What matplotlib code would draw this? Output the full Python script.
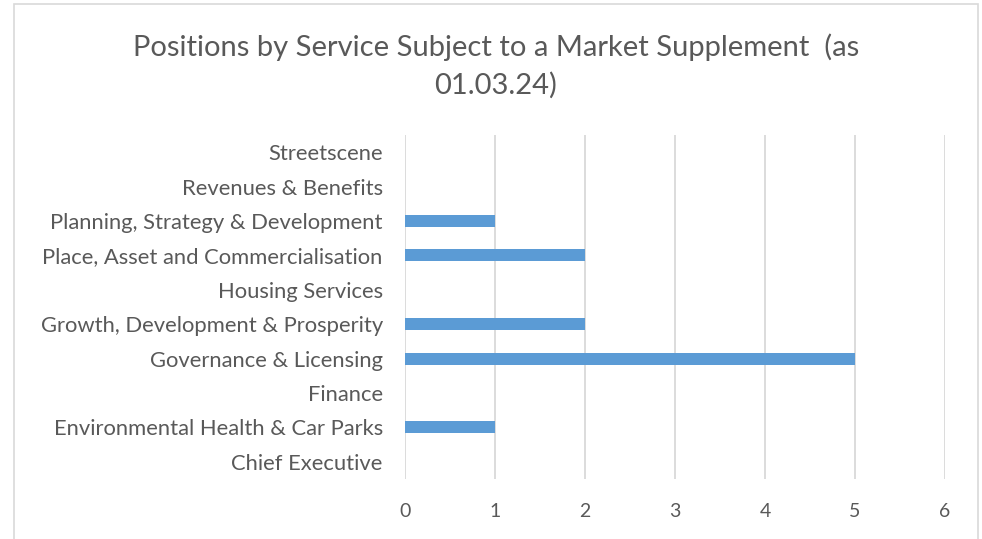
import numpy as np
import matplotlib.pyplot as plt
from matplotlib.patches import Rectangle

services = ["Chief Executive", "Environmental Health & Car Parks", "Finance",
            "Governance & Licensing", "Growth, Development & Prosperity",
            "Housing Services", "Place, Asset and Commercialisation",
            "Planning, Strategy & Development", "Revenues & Benefits", "Streetscene"]
positions = [0, 1, 0, 5, 2, 0, 2, 1, 0, 0]
xticks = [0, 1, 2, 3, 4, 5, 6]

plt.rcParams['font.family'] = ['Lato', 'DejaVu Sans']
txt = "#595959"

fig = plt.figure(figsize=(9.82, 5.39), dpi=100)
ax = fig.add_axes([405 / 982, 1 - 479 / 539, 540 / 982, 344 / 539])

y = np.arange(len(services))
ax.barh(y, positions, height=0.35, color="#5B9BD5", zorder=3)
ax.set_xlim(0, 6)
ax.set_ylim(-0.5, len(services) - 0.5)
ax.set_xticks(xticks)
ax.set_xticklabels([str(t) for t in xticks], fontsize=14, color=txt)
ax.set_yticks(y)
ax.set_yticklabels(services, fontsize=15.8, color=txt)
ax.tick_params(length=0, pad=16, axis="y")
ax.tick_params(length=0, pad=17, axis="x")
ax.grid(axis="x", color="#D9D9D9", linewidth=1.3, zorder=0)
for s in ax.spines.values():
    s.set_visible(False)

fig.text(0.505, 1 - 47 / 539, "Positions by Service Subject to a Market Supplement  (as",
         ha="center", va="center", fontsize=21, color=txt)
fig.text(0.505, 1 - 85 / 539, "01.03.24)", ha="center", va="center", fontsize=21, color=txt)

fig.patches.append(Rectangle((14 / 982, -0.05), 964 / 982, 1 - 4 / 539 + 0.05,
                             transform=fig.transFigure, fill=False,
                             edgecolor="#D9D9D9", linewidth=1.2))

fig.savefig("out.png", dpi=100)
